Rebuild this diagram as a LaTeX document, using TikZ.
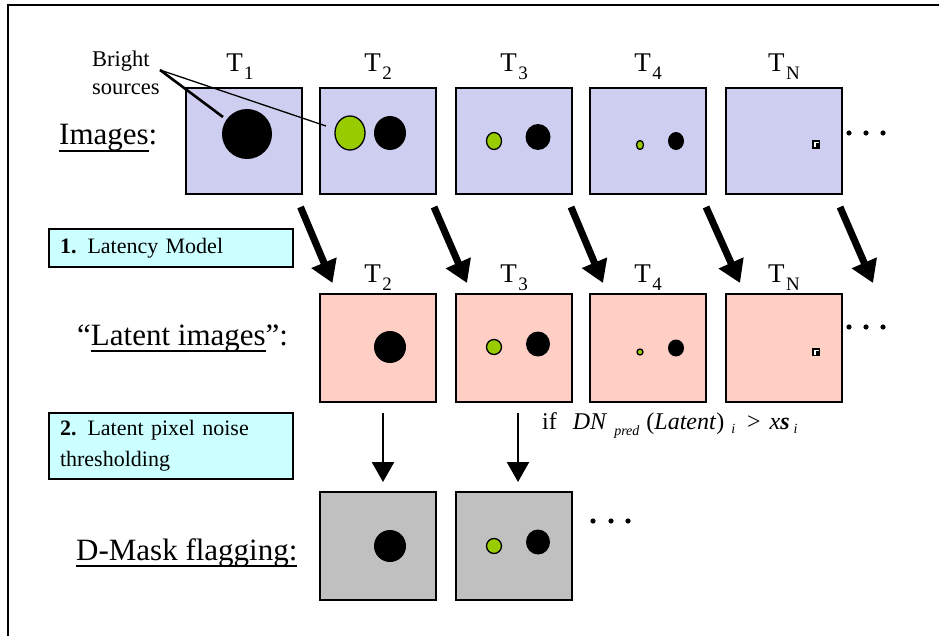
\documentclass[tikz,border=0pt]{standalone}
\usepackage{fontspec}
\setmainfont{Liberation Serif}
\usetikzlibrary{arrows.meta}

\definecolor{lav}{RGB}{206,206,240}
\definecolor{salmon}{RGB}{255,206,196}
\definecolor{maskgray}{RGB}{192,192,192}
\definecolor{notecyan}{RGB}{204,255,255}
\definecolor{srcgreen}{RGB}{153,204,0}

% thick underline sitting just below the descenders
\newcommand\ulword[1]{\setbox0\hbox{#1}\rlap{\rule[-7pt]{\wd0}{1.7pt}}\box0}
% time label with a lowered subscript
\newcommand\tlab[1]{T\kern1.5pt\raisebox{-8pt}{\fontsize{19}{19}\selectfont #1}}
\newcommand\lowsub[2]{\raisebox{#1}{\fontsize{14}{14}\selectfont\itshape #2}}

\begin{document}
\begin{tikzpicture}[x=1pt,y=-1pt,
  frame/.style={draw,fill=#1,line width=2,minimum width=116,inner sep=0},
  imgbox/.style={frame=lav,minimum height=106},
  latbox/.style={frame=salmon,minimum height=108},
  maskbox/.style={frame=maskgray,minimum height=108},
  tlabel/.style={anchor=base,inner sep=0,font=\fontsize{27}{27}\selectfont},
  rowlabel/.style={anchor=base west,inner sep=0,font=\fontsize{31}{31}\selectfont},
  stepnote/.style={draw,line width=2,fill=notecyan,text width=222,inner xsep=11,
    inner ysep=0,align=left,font=\fontsize{22}{31}\selectfont},
  bigarrow/.style={line width=7,-{Triangle[width=26,length=22]}},
  thinarrow/.style={line width=2.5,-{Triangle[width=22,length=20]}},
  blob/.style={fill=black},
  gblob/.style={fill=srcgreen,draw=black,line width=1.3},
  dot/.style={fill=black},
]
\useasboundingbox (0,0) rectangle (939,636);
\draw[line width=2] (939,5) -- (8,5) -- (8,636);

% ---- row 1: images
\node[imgbox] (i1) at (243.5,141) {};
\node[imgbox] (i2) at (378,141) {};
\node[imgbox] (i3) at (514,141) {};
\node[imgbox] (i4) at (648,141) {};
\node[imgbox] (i5) at (784,141) {};
\node[tlabel] (ti1) at (240,72) {\tlab{1}};
\node[tlabel] (ti2) at (378,72) {\tlab{2}};
\node[tlabel] (ti3) at (514,72) {\tlab{3}};
\node[tlabel] (ti4) at (648,72) {\tlab{4}};
\node[tlabel] (ti5) at (784,72) {\tlab{N}};
\node[rowlabel] (lbimg) at (59,145) {\ulword{Images}:};

% sources in the images
\fill[blob] (247,134) circle (25);
\draw[gblob] (350,133) ellipse (15 and 17);
\fill[blob] (390,133) ellipse (16 and 17);
\draw[gblob] (494,141) ellipse (7.5 and 8.5);
\fill[blob] (538,137) ellipse (12.5 and 13);
\draw[gblob] (640,145) ellipse (3.5 and 4.5);
\fill[blob] (676,141) ellipse (8 and 9);
\fill[blob] (812,140) rectangle (820,149);
\draw[white,line width=1.2] (815,147.5) -- (815,142.5) -- (818.5,142.5);
\foreach \x in {849,866,883} \fill[dot] (\x,133) circle (2.6);

% bright-source callout (base anchor sits on the last line)
\node[anchor=base west,inner sep=0,align=left,font=\fontsize{22.5}{28}\selectfont]
  (bright) at (92,95) {Bright\\sources};
\coordinate (bsfrom) at (160,70);
\coordinate (bsbig) at (223,117);
\coordinate (bsgreen) at (326,126);
\draw[line width=2.6] (bsfrom) -- (bsbig);
\draw[line width=1.3] (bsfrom) -- (bsgreen);

% ---- step 1
\node[stepnote,minimum height=38] (n1) at (171,248) {\textbf{1.} Latency Model};
\draw[bigarrow] ([shift={(-2,12)}]i1.south east) -- ++(32,76);
\draw[bigarrow] ([shift={(-3,12)}]i2.south east) -- ++(33,76);
\draw[bigarrow] ([shift={(-2,12)}]i3.south east) -- ++(32,76);
\draw[bigarrow] ([shift={(-1,12)}]i4.south east) -- ++(34,76);
\draw[bigarrow] ([shift={(-3,12)}]i5.south east) -- ++(33,76);

% ---- row 2: latent images
\node[latbox] (l2) at (378,348) {};
\node[latbox] (l3) at (514,348) {};
\node[latbox] (l4) at (648,348) {};
\node[latbox] (l5) at (784,348) {};
\node[tlabel] (tl2) at (378,282) {\tlab{2}};
\node[tlabel] (tl3) at (514,282) {\tlab{3}};
\node[tlabel] (tl4) at (648,282) {\tlab{4}};
\node[tlabel] (tl5) at (784,282) {\tlab{N}};
\node[rowlabel] (lblat) at (77,345) {``\ulword{Latent images}'':};

\fill[blob] (390,347) circle (16);
\draw[gblob] (494,347) ellipse (7.5 and 7.5);
\fill[blob] (538,344) ellipse (12 and 12.5);
\draw[gblob] (640,352) circle (3);
\fill[blob] (676,348) ellipse (8 and 8.5);
\fill[blob] (812,348) rectangle (820,356);
\draw[white,line width=1.2] (815,354.5) -- (815,350.5) -- (818.5,350.5);
\foreach \x in {849,866,883} \fill[dot] (\x,327) circle (2.6);

% ---- step 2
\node[stepnote,minimum height=66] (n2) at (171,446) {\textbf{2.} Latent pixel noise\\thresholding};
\node[anchor=base west,inner sep=0,font=\fontsize{24}{24}\selectfont] (cond) at (542,429)
  {if\kern16pt\textit{DN}\kern7pt\lowsub{-6pt}{pred}\kern7pt(\textit{Latent})\kern7pt\lowsub{-4pt}{i}\kern12pt>\kern9pt\textit{x}\textbf{\textit{s}}\kern4pt\lowsub{-4pt}{i}};

% ---- row 3: D-mask
\node[maskbox] (m2) at (378,546) {};
\node[maskbox] (m3) at (514,546) {};
\node[rowlabel] (lbmask) at (76,560) {\ulword{D-Mask flagging:}};
\fill[blob] (390,546) circle (16);
\draw[gblob] (494,546) ellipse (7.5 and 7.5);
\fill[blob] (538,542) ellipse (12 and 12.5);
\foreach \x in {593,611,628} \fill[dot] (\x,521) circle (2.6);

\draw[thinarrow] ([shift={(5,10)}]l2.south) -- ([shift={(5,-9)}]m2.north);
\draw[thinarrow] ([shift={(4,10)}]l3.south) -- ([shift={(4,-9)}]m3.north);
\end{tikzpicture}
\end{document}
